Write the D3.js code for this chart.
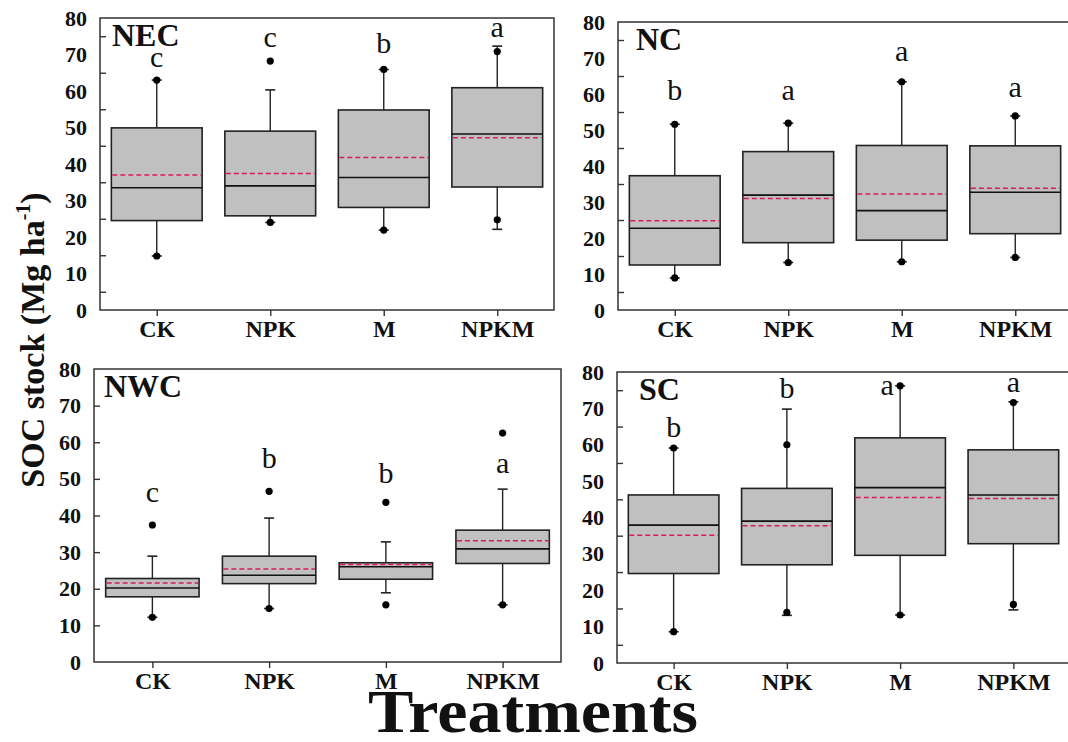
<!DOCTYPE html>
<html>
<head>
<meta charset="utf-8">
<script src="https://cdn.jsdelivr.net/npm/d3@7/dist/d3.min.js"></script>
<style>
  body { margin: 0; background: #fff; }
</style>
</head>
<body>
<svg id="chart" width="1068" height="742"></svg>
<script>
var treatments = ["CK", "NPK", "M", "NPKM"];
var regions = ["NEC", "NC", "NWC", "SC"];

// one row per region, one value per treatment (Mg ha-1)
var q1     = [[24.5, 25.8, 28.1, 33.7], [12.5, 18.7, 19.4, 21.2], [17.8, 21.4, 22.6, 26.9], [24.6, 27.0, 29.6, 32.8]];
var median = [[33.5, 34.0, 36.3, 48.2], [22.7, 31.9, 27.6, 32.7], [20.2, 23.7, 26.0, 30.9], [37.9, 39.0, 48.2, 46.2]];
var mean   = [[37.0, 37.4, 41.8, 47.2], [24.8, 31.0, 32.2, 33.8], [21.6, 25.4, 26.6, 33.1], [35.1, 37.7, 45.5, 45.2]];
var q3     = [[49.9, 49.0, 54.8, 60.9], [37.3, 44.0, 45.7, 45.6], [22.8, 28.9, 27.1, 36.0], [46.2, 48.0, 61.9, 58.6]];
var whiskerLo = [[14.8, 24.0, 21.9, 22.1], [8.9, 13.2, 13.4, 14.6], [12.2, 14.6, 18.9, 15.6], [8.6, 13.1, 13.2, 14.6]];
var whiskerHi = [[63.0, 60.3, 65.9, 72.3], [51.6, 51.9, 63.4, 53.9], [28.9, 39.3, 32.8, 47.2], [59.1, 69.8, 76.2, 71.8]];
var dots = [
  [[63.0, 14.8], [68.2, 24.0], [65.9, 21.9], [70.8, 24.7]],
  [[51.6, 8.9], [51.9, 13.2], [63.4, 13.4], [53.9, 14.6]],
  [[37.4, 12.2], [46.6, 14.6], [43.6, 15.6], [62.5, 15.6]],
  [[59.1, 8.6], [60.0, 13.9], [76.2, 13.2], [71.6, 16.1]]
];
var letters  = [["c", "c", "b", "a"], ["b", "a", "a", "a"], ["c", "b", "b", "a"], ["b", "b", "a", "a"]];
var letterAt = [[66.7, 72.1, 70.3, 74.9], [58.3, 58.3, 69.2, 59.3], [43.8, 53.1, 49.0, 51.7], [62.2, 72.8, 73.7, 74.6]];
var yLabels = [0, 10, 20, 30, 40, 50, 60, 70, 80];

// panel frames in pixels
var layout = [
  {left: 100, right: 554, top: 18, bottom: 310, titleDx: 12, oddTicks: true},
  {left: 618, right: 1072, top: 22, bottom: 310, titleDx: 18, oddTicks: true},
  {left: 94, right: 561, top: 369, bottom: 662, titleDx: 10, oddTicks: false},
  {left: 617, right: 1070, top: 372, bottom: 663, titleDx: 22, oddTicks: true}
];
var letterDx = [[0, 0, 0, 0], [0, 0, 0, 0], [0, 0, 0, 0], [0, 0, -13, 0]];

var FONT = "'Liberation Serif', 'Times New Roman', serif";
var svg = d3.select("#chart");

function serif(sel, size, bold) {
  sel.style("font-family", FONT)
    .style("font-size", size + "px")
    .style("font-weight", bold ? "bold" : "normal")
    .attr("fill", "#111");
}

regions.forEach(function(name, r) {
  var L = layout[r];
  var x = d3.scalePoint().domain(treatments).range([L.left, L.right]).padding(0.5);
  var y = d3.scaleLinear().domain([0, 80]).range([L.bottom, L.top]);
  var bw = x.step() * 0.8;
  var g = svg.append("g").attr("class", "panel panel-" + name);

  var rows = treatments.map(function(t, i) {
    return {t: t, i: i, q1: q1[r][i], med: median[r][i], mean: mean[r][i], q3: q3[r][i],
            lo: whiskerLo[r][i], hi: whiskerHi[r][i], dots: dots[r][i],
            letter: letters[r][i], at: letterAt[r][i], dx: letterDx[r][i]};
  });

  // y labels at tens, short inward ticks
  var ya = g.append("g")
    .attr("transform", "translate(" + L.left + ",0)")
    .call(d3.axisLeft(y).tickValues(yLabels).tickSize(0).tickPadding(13));
  ya.select(".domain").remove();
  ya.selectAll("text").call(serif, 22, true);

  var minor = L.oddTicks ? d3.range(5, 80, 10) : d3.range(10, 80, 10);
  g.append("g")
    .attr("transform", "translate(" + L.left + ",0)")
    .call(d3.axisRight(y).tickValues(minor).tickSize(6).tickFormat(""))
    .call(function(a) { a.select(".domain").remove(); })
    .selectAll("line").attr("stroke", "#333").attr("stroke-width", 1.4);

  var xa = g.append("g")
    .attr("transform", "translate(0," + L.bottom + ")")
    .call(d3.axisBottom(x).tickSize(6).tickPadding(4));
  xa.select(".domain").remove();
  xa.selectAll("line").attr("stroke", "#333").attr("stroke-width", 1.4);
  xa.selectAll("text").call(serif, 24, true);

  var b = g.selectAll(".box").data(rows).enter().append("g").attr("class", "box");

  b.append("line")
    .attr("x1", function(d) { return x(d.t); })
    .attr("x2", function(d) { return x(d.t); })
    .attr("y1", function(d) { return y(d.hi); })
    .attr("y2", function(d) { return y(d.lo); })
    .attr("stroke", "#222").attr("stroke-width", 1.4);
  b.selectAll(".cap").data(function(d) { return [d.lo, d.hi].map(function(v) { return {t: d.t, v: v}; }); })
    .enter().append("line")
    .attr("class", "cap")
    .attr("x1", function(d) { return x(d.t) - 5; })
    .attr("x2", function(d) { return x(d.t) + 5; })
    .attr("y1", function(d) { return y(d.v); })
    .attr("y2", function(d) { return y(d.v); })
    .attr("stroke", "#222").attr("stroke-width", 1.6);

  b.append("rect")
    .attr("x", function(d) { return x(d.t) - bw / 2; })
    .attr("y", function(d) { return y(d.q3); })
    .attr("width", bw)
    .attr("height", function(d) { return y(d.q1) - y(d.q3); })
    .attr("fill", "#c0c0c0")
    .attr("stroke", "#222").attr("stroke-width", 1.6);

  b.append("line")
    .attr("x1", function(d) { return x(d.t) - bw / 2; })
    .attr("x2", function(d) { return x(d.t) + bw / 2; })
    .attr("y1", function(d) { return y(d.med); })
    .attr("y2", function(d) { return y(d.med); })
    .attr("stroke", "#111").attr("stroke-width", 1.6);

  b.append("line")
    .attr("x1", function(d) { return x(d.t) - bw / 2 + 1; })
    .attr("x2", function(d) { return x(d.t) + bw / 2 - 1; })
    .attr("y1", function(d) { return y(d.mean); })
    .attr("y2", function(d) { return y(d.mean); })
    .attr("stroke", "#d81b60").attr("stroke-width", 1.5)
    .attr("stroke-dasharray", "5,3");

  b.selectAll(".dot").data(function(d) { return d.dots.map(function(v) { return {t: d.t, v: v}; }); })
    .enter().append("circle")
    .attr("class", "dot")
    .attr("cx", function(d) { return x(d.t); })
    .attr("cy", function(d) { return y(d.v); })
    .attr("r", 3.6)
    .attr("fill", "#000");

  b.append("text")
    .attr("x", function(d) { return x(d.t) + d.dx; })
    .attr("y", function(d) { return y(d.at); })
    .attr("text-anchor", "middle")
    .call(serif, 30, false)
    .text(function(d) { return d.letter; });

  g.append("rect")
    .attr("x", L.left).attr("y", L.top)
    .attr("width", L.right - L.left).attr("height", L.bottom - L.top)
    .attr("fill", "none").attr("stroke", "#333").attr("stroke-width", 1.5);

  g.append("text")
    .attr("x", L.left + L.titleDx)
    .attr("y", L.top + 28)
    .call(serif, 32, true)
    .text(name);
});

var yt = svg.append("text")
  .attr("transform", "translate(44,340) rotate(-90)")
  .attr("text-anchor", "middle")
  .call(serif, 34, true);
yt.append("tspan").text("SOC stock (Mg ha");
yt.append("tspan").style("font-size", "20px").attr("dy", -14).text("-1");
yt.append("tspan").attr("dy", 14).text(")");

svg.append("text")
  .attr("x", 533).attr("y", 732)
  .attr("text-anchor", "middle")
  .attr("textLength", 330).attr("lengthAdjust", "spacingAndGlyphs")
  .call(serif, 62, true)
  .text("Treatments");
</script>
</body>
</html>
